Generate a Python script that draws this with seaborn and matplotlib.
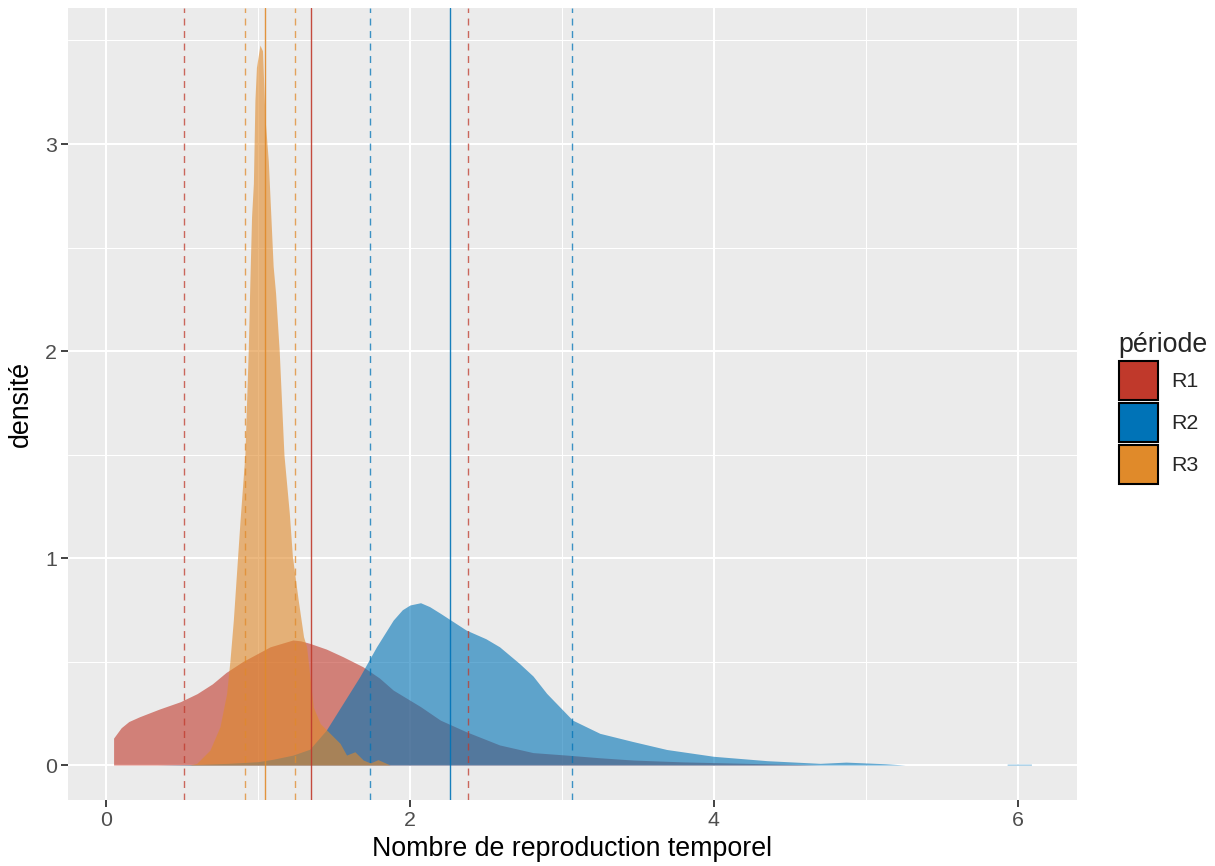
import numpy as np
import pandas as pd
import seaborn as sns
import matplotlib.pyplot as plt
from matplotlib.patches import Patch

# density curves (x, densité)
r1_x = [0.05, 0.10, 0.15, 0.22, 0.35, 0.49, 0.60, 0.70, 0.79, 0.90, 1.08, 1.23, 1.28, 1.34, 1.45, 1.56, 1.69, 1.80,
        1.89, 2.07, 2.20, 2.37, 2.59, 2.81, 3.03, 3.25, 3.47, 3.80, 4.10, 4.40, 4.70]
r1_y = [0.13, 0.18, 0.21, 0.233, 0.27, 0.306, 0.345, 0.392, 0.447, 0.50, 0.571, 0.604, 0.600, 0.588, 0.56, 0.523, 0.475, 0.42,
        0.362, 0.282, 0.217, 0.161, 0.097, 0.06, 0.048, 0.035, 0.024, 0.015, 0.01, 0.005, 0.0]

r2_x = [0.34, 0.60, 0.80, 1.00, 1.10, 1.23, 1.34, 1.45, 1.56, 1.67, 1.78, 1.89, 1.95, 2.00, 2.07, 2.13, 2.20,
        2.37, 2.50, 2.59, 2.72, 2.81, 2.90, 3.07, 3.25, 3.47, 3.69, 4.00, 4.35, 4.70, 4.87, 5.00,
        5.13, 5.26, 5.93, 5.93, 6.09, 6.09]
r2_y = [0.0, 0.003, 0.008, 0.016, 0.028, 0.048, 0.076, 0.169, 0.298, 0.427, 0.571, 0.70, 0.75, 0.773, 0.784, 0.765, 0.733,
        0.652, 0.61, 0.571, 0.491, 0.43, 0.346, 0.217, 0.153, 0.113, 0.075, 0.042, 0.021, 0.008, 0.014, 0.01,
        0.006, 0.0, 0.0, 0.004, 0.004, 0.0]

r3_x = [0.55, 0.597, 0.684, 0.75, 0.794, 0.816, 0.838, 0.86, 0.882, 0.914, 0.936, 0.947, 0.958, 0.97, 0.98, 0.99,
        1.013, 1.03, 1.046, 1.068, 1.08, 1.10, 1.116, 1.14, 1.171, 1.206, 1.227, 1.265, 1.30, 1.32, 1.364, 1.41,
        1.474, 1.54, 1.583, 1.638, 1.693, 1.74, 1.79, 1.87]
r3_y = [0.0, 0.008, 0.072, 0.185, 0.346, 0.507, 0.70, 0.94, 1.18, 1.5, 2.0, 2.34, 2.65, 2.81, 3.21, 3.37,
        3.478, 3.45, 3.13, 2.92, 2.73, 2.41, 2.28, 2.0, 1.5, 1.22, 1.006, 0.797, 0.62, 0.571, 0.28, 0.20,
        0.153, 0.105, 0.048, 0.064, 0.024, 0.01, 0.026, 0.0]

# vertical reference lines: lower bound, centre, upper bound
r1_lines = [0.513, 1.349, 2.38]
r2_lines = [1.737, 2.263, 3.066]
r3_lines = [0.914, 1.046, 1.243]

periodes = ['R1', 'R2', 'R3']
couleurs = ['#C0392B', '#0073B7', '#E08A2A']

curves = pd.concat([
    pd.DataFrame({'x': r1_x, 'y': r1_y, 'periode': 'R1'}),
    pd.DataFrame({'x': r2_x, 'y': r2_y, 'periode': 'R2'}),
    pd.DataFrame({'x': r3_x, 'y': r3_y, 'periode': 'R3'}),
])
lines = {'R1': r1_lines, 'R2': r2_lines, 'R3': r3_lines}

sns.set_theme(style='darkgrid')
plt.rcParams['font.family'] = ['Liberation Sans', 'DejaVu Sans']

fig = plt.figure(figsize=(12.15, 8.66), dpi=100)
ax = fig.add_axes([68 / 1215, 1 - 800 / 866, (1077 - 68) / 1215, (800 - 8) / 866])
ax.set_facecolor('#EBEBEB')

for p, c in zip(periodes, couleurs):
    d = curves[curves['periode'] == p]
    ax.fill_between(d['x'], 0, d['y'], color=c, alpha=0.6, linewidth=0, zorder=3)

for p, c in zip(periodes, couleurs):
    lo, mid, hi = lines[p]
    ax.axvline(mid, color=c, lw=1.0, alpha=0.9, zorder=4)
    for v in (lo, hi):
        ax.axvline(v, color=c, lw=1.0, alpha=0.75, linestyle=(0, (5, 4)), zorder=4)

ax.set_xlim(-0.25, 6.39)
ax.set_ylim(-0.169, 3.657)
ax.set_xticks([0, 2, 4, 6])
ax.set_yticks([0, 1, 2, 3])
ax.set_xticks([1, 3, 5], minor=True)
ax.set_yticks([0.5, 1.5, 2.5, 3.5], minor=True)
ax.grid(which='major', color='white', lw=1.5)
ax.grid(which='minor', color='white', lw=0.75)
ax.set_axisbelow(True)
for s in ax.spines.values():
    s.set_visible(False)
ax.tick_params(which='major', length=5, width=1.3, color='#333333', labelsize=15.4,
               labelcolor='#4D4D4D', pad=3, bottom=True, left=True)
ax.tick_params(which='minor', length=0)

ax.set_xlabel('Nombre de reproduction temporel', fontsize=19.3, color='black', labelpad=4)
ax.set_ylabel('densité', fontsize=19.3, color='black', labelpad=8)

handles = [Patch(facecolor=c, edgecolor='black', linewidth=1.5, label=p) for p, c in zip(periodes, couleurs)]
leg = fig.legend(handles=handles, title='période', loc='center left',
                 bbox_to_anchor=(1110 / 1215, 0.529), frameon=False, fontsize=15.4,
                 title_fontsize=19.3, handlelength=1.85, handleheight=2.4,
                 labelspacing=0.15, handletextpad=0.6, borderaxespad=0)
leg._legend_box.align = 'left'

fig.savefig('out.png', dpi=100)
